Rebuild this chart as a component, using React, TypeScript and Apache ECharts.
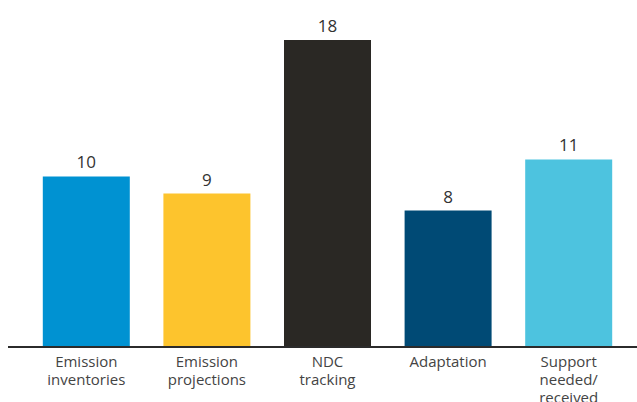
import React, { useEffect, useRef } from "react";
import * as echarts from "echarts";

const categories = [
  "Emission\ninventories",
  "Emission\nprojections",
  "NDC\ntracking",
  "Adaptation",
  "Support\nneeded/\nreceived",
];
const values = [10, 9, 18, 8, 11];
const barColors = ["#0092d2", "#fdc42d", "#2a2824", "#004a75", "#4dc3df"];

export default function App() {
  const ref = useRef<HTMLDivElement>(null);

  useEffect(() => {
    if (!ref.current) return;
    const chart = echarts.init(ref.current, null, { renderer: "svg" });
    chart.setOption({
      animation: false,
      backgroundColor: "#ffffff",
      textStyle: { fontFamily: "'Open Sans', 'Noto Sans', sans-serif" },
      grid: {
        left: 26,
        right: 8,
        top: 40,
        bottom: 55,
        containLabel: false,
        outerBoundsMode: "none",
      },
      xAxis: {
        type: "category",
        data: categories,
        axisLine: { show: false },
        axisTick: { show: false },
        axisLabel: {
          color: "#444",
          fontSize: 15,
          lineHeight: 18,
          margin: 5,
          verticalAlign: "top",
        },
      },
      yAxis: {
        type: "value",
        min: 0,
        max: 18,
        show: false,
        splitLine: { show: false },
      },
      series: [
        {
          type: "bar",
          barWidth: 87,
          data: values.map((v, i) => ({
            value: v,
            itemStyle: { color: barColors[i] },
          })),
          label: {
            show: true,
            position: "top",
            distance: 6,
            color: "#333",
            fontSize: 17,
          },
        },
      ],
      graphic: [
        {
          type: "line",
          shape: { x1: 8, y1: 347, x2: 637, y2: 347 },
          style: { stroke: "#2b2b2b", lineWidth: 2 },
          z: 10,
        },
      ],
    });
    return () => chart.dispose();
  }, []);

  return (
    <div
      ref={ref}
      style={{ position: "fixed", left: 0, top: 0, width: 637, height: 402 }}
    />
  );
}
